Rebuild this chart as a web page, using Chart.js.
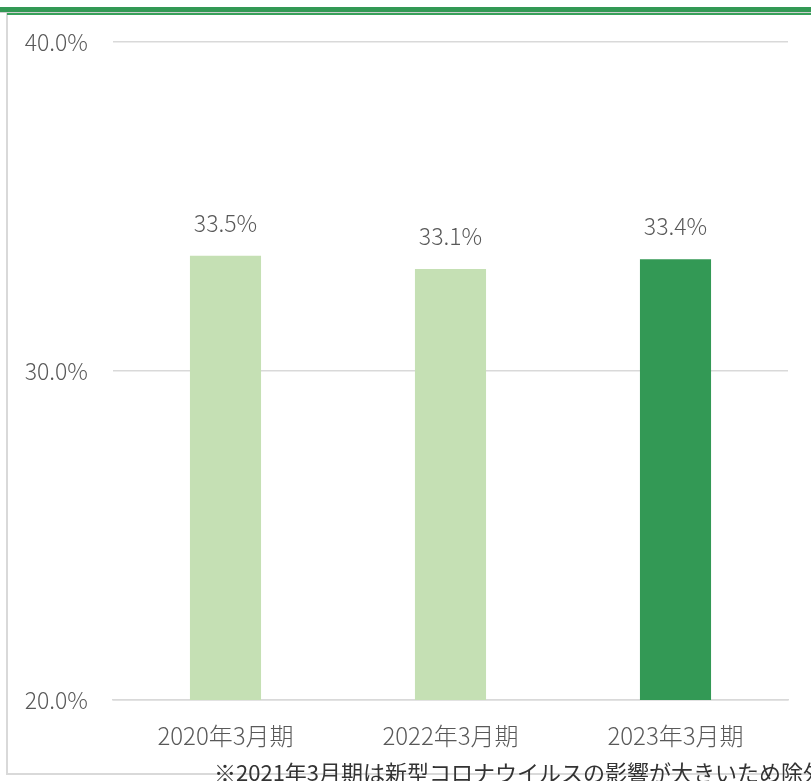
<!DOCTYPE html>
<html><head><meta charset="utf-8">
<script src="https://cdn.jsdelivr.net/npm/chart.js@4/dist/chart.umd.min.js"></script>
<style>
html,body{margin:0;padding:0;background:#fff;overflow:hidden;}
#wrap{position:relative;width:811px;height:781px;overflow:hidden;}
#band{position:absolute;left:0;top:7px;width:811px;height:5px;background:#339955;}
#band2{position:absolute;left:0;top:12px;width:811px;height:1px;background:#cfcfcf;}
#band3{position:absolute;left:7px;top:13px;width:804px;height:2px;background:#38a05a;}
#frame{position:absolute;left:6px;top:13px;width:820px;border-left:2px solid #d9d9d9;border-bottom:2px solid #d9d9d9;box-sizing:border-box;height:762px;}
#c{position:absolute;left:0;top:0;}
#note{position:absolute;left:214px;top:756px;font-family:"Noto Sans CJK JP",sans-serif;font-size:22px;color:#333;white-space:nowrap;line-height:30px;}
</style></head>
<body><div id="wrap">
<div id="frame"></div>
<div id="band"></div><div id="band2"></div><div id="band3"></div>
<canvas id="c" width="811" height="781"></canvas>
<div id="note">※2021年3月期は新型コロナウイルスの影響が大きいため除外</div>
</div>
<script>
const categories = ["2020年3月期", "2022年3月期", "2023年3月期"];
const values = [33.5, 33.1, 33.4];
const barColors = ["#c5e0b4", "#c5e0b4", "#339955"];
const yTicks = [20, 30, 40];

const FONT = '"Noto Sans CJK JP", sans-serif';

const labelPlugin = {
  id: 'valLabels',
  afterDatasetsDraw(chart) {
    const ctx = chart.ctx;
    const meta = chart.getDatasetMeta(0);
    ctx.save();
    ctx.font = '300 23px ' + FONT;
    ctx.fillStyle = '#595959';
    ctx.textAlign = 'center';
    ctx.textBaseline = 'middle';
    meta.data.forEach((bar, i) => {
      ctx.fillText(values[i].toFixed(1) + '%', bar.x, bar.y - 33);
    });
    ctx.restore();
  }
};

new Chart(document.getElementById('c'), {
  type: 'bar',
  data: {
    labels: categories,
    datasets: [{
      data: values,
      backgroundColor: barColors,
      barPercentage: 0.316,
      categoryPercentage: 1.0
    }]
  },
  options: {
    responsive: false,
    animation: false,
    layout: { padding: { top: 42, right: 23, bottom: 0, left: 0 } },
    plugins: { legend: { display: false }, tooltip: { enabled: false } },
    scales: {
      x: {
        grid: { display: false, drawTicks: false },
        border: { display: true, color: '#d9d9d9', width: 1.5 },
        ticks: { color: '#595959', font: { family: FONT, size: 24, weight: 300 }, padding: 21, maxRotation: 0 },
        afterFit(s) { s.height = 81; }
      },
      y: {
        min: 20, max: 40,
        afterBuildTicks(s) { s.ticks = yTicks.map(v => ({ value: v })); },
        grid: { color: '#d9d9d9', lineWidth: 1.5, drawTicks: false },
        border: { display: false },
        ticks: { color: '#595959', font: { family: FONT, size: 23, weight: 300 }, padding: 25,
          callback: v => v.toFixed(1) + '%' },
        afterFit(s) { s.width = 113; }
      }
    }
  },
  plugins: [labelPlugin]
});
</script>
</body></html>
